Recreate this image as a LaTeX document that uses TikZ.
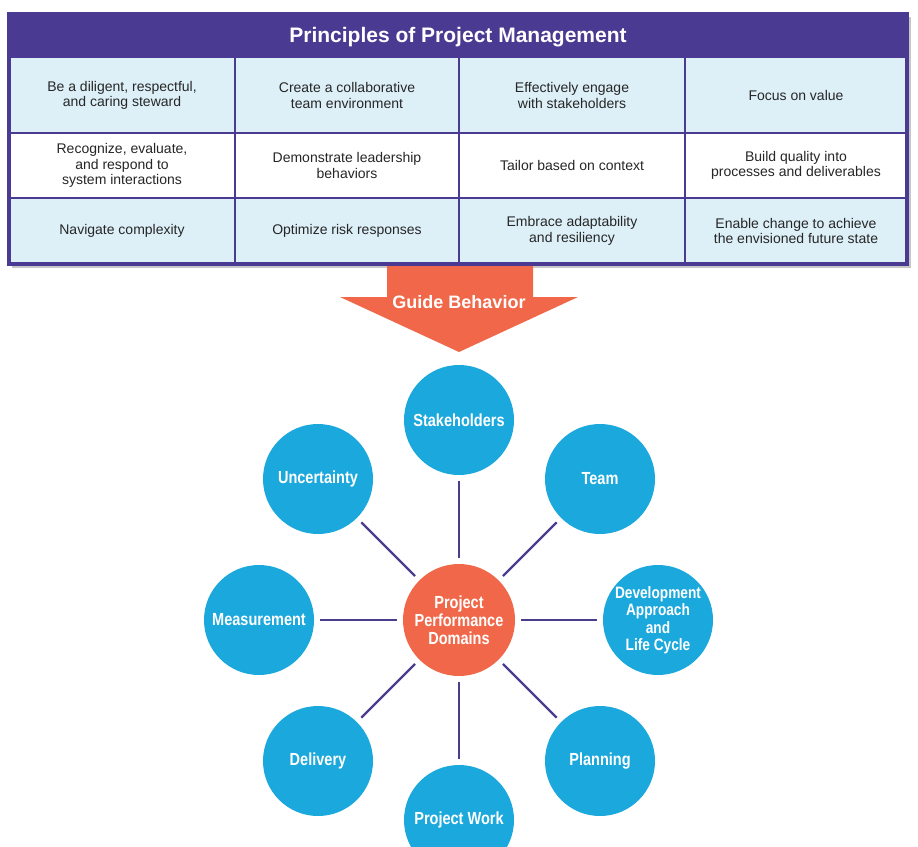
\documentclass[tikz,border=0pt]{standalone}
\usepackage{fontspec}
\setmainfont{Liberation Sans}
\newfontfamily\narrowsans{Liberation Sans}[FakeStretch=0.83]
\definecolor{pmpurple}{HTML}{4A3A92}
\definecolor{cellblue}{HTML}{DDF0F8}
\definecolor{pmorange}{HTML}{F06849}
\definecolor{pmcyan}{HTML}{1BA8DC}
\definecolor{pmline}{HTML}{4B3C8E}
\tikzset{
  cell/.style={align=center, text=black!85, font=\fontsize{14}{15.5}\selectfont},
  areacircle/.style={circle, fill=pmcyan, minimum size=110pt, inner sep=0pt, align=center,
    text=white, font={\narrowsans\bfseries\fontsize{17.5}{17}\selectfont}},
  hubcircle/.style={areacircle, fill=pmorange, minimum size=112pt,
    font={\narrowsans\bfseries\fontsize{17.5}{18}\selectfont}},
  spoke/.style={draw=pmline, line width=2.2pt, shorten <=6pt, shorten >=6pt},
}
\begin{document}
\begin{tikzpicture}[x=1pt,y=-1pt]
\useasboundingbox (0,0) rectangle (918,846);
\fill[black!22] (12,17) rectangle (911,268);
\fill[pmpurple] (9,14) rectangle (907,58);
\fill[cellblue] (9,58) rectangle (907,133);
\fill[white] (9,133) rectangle (907,198);
\fill[cellblue] (9,198) rectangle (907,264);
\draw[pmpurple, line width=1.3pt] (9,133) -- (907,133);
\draw[pmpurple, line width=1.3pt] (9,198) -- (907,198);
\draw[pmpurple, line width=1.3pt] (235,58) -- (235,264);
\draw[pmpurple, line width=1.3pt] (459,58) -- (459,264);
\draw[pmpurple, line width=1.3pt] (685,58) -- (685,264);
\draw[pmpurple, line width=3.5pt] (9,14) rectangle (907,264);
\node[text=white, font=\bfseries\fontsize{21}{24}\selectfont] (title) at (458,37) {Principles of Project Management};
\node[cell] (steward) at (122,95.5) {Be a diligent, respectful,\\and caring steward};
\node[cell] (team env) at (347,95.5) {Create a collaborative\\team environment};
\node[cell] (engage) at (572,95.5) {Effectively engage\\with stakeholders};
\node[cell] (value) at (796,95.5) {Focus on value};
\node[cell] (systems) at (122,165.5) {Recognize, evaluate,\\and respond to\\system interactions};
\node[cell] (leader) at (347,165.5) {Demonstrate leadership\\behaviors};
\node[cell] (tailor) at (572,165.5) {Tailor based on context};
\node[cell] (quality) at (796,165.5) {Build quality into\\processes and deliverables};
\node[cell] (complex) at (122,231) {Navigate complexity};
\node[cell] (risk) at (347,231) {Optimize risk responses};
\node[cell] (adapt) at (572,231) {Embrace adaptability\\and resiliency};
\node[cell] (change) at (796,231) {Enable change to achieve\\the envisioned future state};
\fill[pmorange] (387,266) -- (533,266) -- (533,297) -- (578,297) -- (459,352) -- (340,297) -- (387,297) -- cycle;
\node[text=white, font=\bfseries\fontsize{18}{20}\selectfont] (guide) at (459,302) {Guide Behavior};
\node[hubcircle] (ppd) at (459,620) {Project\\Performance\\Domains};
\node[areacircle] (stake) at (459,420) {Stakeholders};
\node[areacircle] (team) at (600,479) {Team};
\node[areacircle, font={\narrowsans\bfseries\fontsize{16.5}{17.5}\selectfont}] (dev) at (658,620) {Development\\Approach\\and\\Life Cycle};
\node[areacircle] (plan) at (600,761) {Planning};
\node[areacircle] (work) at (459,820) {Project Work};
\node[areacircle] (deliv) at (318,761) {Delivery};
\node[areacircle] (meas) at (259,620) {Measurement};
\node[areacircle] (unc) at (318,479) {Uncertainty};
\draw[spoke] (ppd) -- (stake);
\draw[spoke] (ppd) -- (team);
\draw[spoke] (ppd) -- (dev);
\draw[spoke] (ppd) -- (plan);
\draw[spoke] (ppd) -- (work);
\draw[spoke] (ppd) -- (deliv);
\draw[spoke] (ppd) -- (meas);
\draw[spoke] (ppd) -- (unc);
\end{tikzpicture}
\end{document}
